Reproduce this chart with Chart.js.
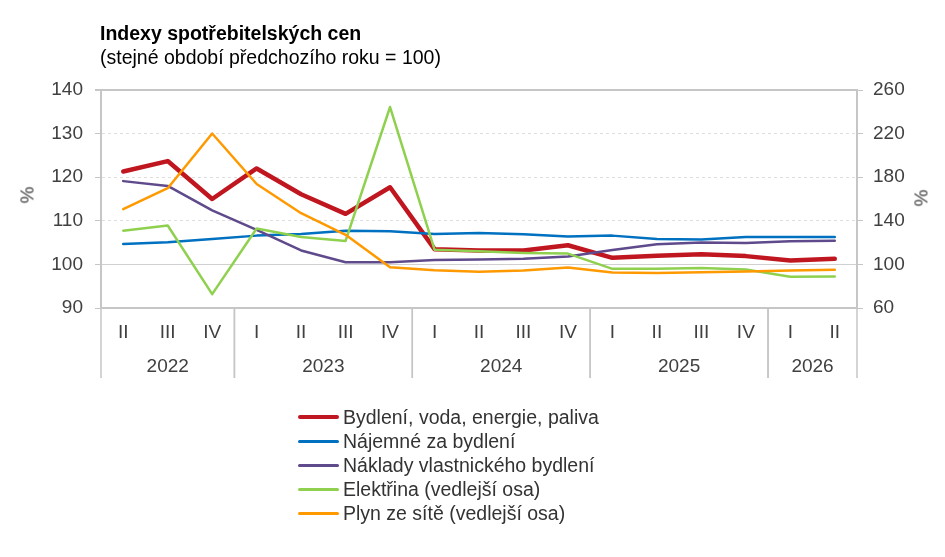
<!DOCTYPE html>
<html>
<head>
<meta charset="utf-8">
<script src="https://cdn.jsdelivr.net/npm/chart.js@4"></script>
<style>
  body { margin: 0; background: #fff; font-family: "Liberation Sans", Arial, sans-serif; }
  #wrap { position: relative; width: 945px; height: 557px; }
  #chart { position: absolute; left: 0; top: 0; }
  .title { position: absolute; left: 100px; top: 22px; font-size: 19.5px; line-height: 22px; font-weight: bold; color: #000; white-space: nowrap; }
  .subtitle { position: absolute; left: 100px; top: 46px; font-size: 19.5px; line-height: 22px; color: #000; white-space: nowrap; }
  .unit { position: absolute; font-size: 19px; color: #404040; transform: rotate(-90deg); }
  #legend { position: absolute; left: 298px; top: 405px; }
  .legend-item { height: 24.1px; display: flex; align-items: center; font-size: 19.5px; color: #333; white-space: nowrap; }
  .legend-line { width: 41px; margin-right: 4px; border-radius: 2px; }
</style>
</head>
<body>
<div id="wrap">
  <canvas id="chart" width="945" height="557"></canvas>
  <div class="title">Indexy spotřebitelských cen</div>
  <div class="subtitle">(stejné období předchozího roku = 100)</div>
  <div class="unit" style="left:19px; top:184px;">%</div>
  <div class="unit" style="left:913px; top:187px;">%</div>
  <div id="legend"></div>
</div>
<script>
// Data
const quarters = ['II', 'III', 'IV', 'I', 'II', 'III', 'IV', 'I', 'II', 'III', 'IV', 'I', 'II', 'III', 'IV', 'I', 'II'];
const years = ['2022', '2023', '2024', '2025', '2026'];
const quartersPerYear = [3, 4, 4, 4, 2];

const bydleni = [121.3, 123.7, 115.0, 122.0, 116.1, 111.6, 117.7, 103.5, 103.2, 103.2, 104.4, 101.5, 102.0, 102.3, 101.9, 100.9, 101.3];
const najemne = [104.7, 105.1, 105.8, 106.6, 107.0, 107.7, 107.6, 107.0, 107.2, 106.9, 106.4, 106.6, 105.8, 105.7, 106.3, 106.3, 106.3];
const naklady = [119.1, 118.0, 112.4, 107.9, 103.2, 100.5, 100.5, 101.0, 101.1, 101.3, 101.8, 103.3, 104.6, 105.0, 104.9, 105.3, 105.4];
const elektrina = [130.9, 135.7, 72.7, 133.0, 125.1, 121.5, 244.4, 113.5, 112.0, 110.5, 109.9, 95.9, 95.9, 96.8, 95.3, 88.6, 89.0];
const plyn = [150.7, 169.9, 220.1, 173.8, 147.0, 127.2, 97.4, 94.6, 93.3, 94.3, 97.1, 92.5, 92.2, 92.8, 93.4, 94.3, 95.0];

const axisGrey = '#c6c6c6';
const tickFont = { family: '"Liberation Sans", Arial, sans-serif', size: 19 };

// Year labels and separators under the x axis
const yearGroups = {
    id: 'yearGroups',
    afterDraw(chart) {
        const ctx = chart.ctx;
        const x = chart.scales.x;
        const area = chart.chartArea;
        const half = (x.getPixelForValue(1) - x.getPixelForValue(0)) / 2;
        ctx.save();
        ctx.strokeStyle = axisGrey;
        ctx.lineWidth = 1.5;
        ctx.fillStyle = '#404040';
        ctx.font = '19px "Liberation Sans", Arial, sans-serif';
        ctx.textAlign = 'center';
        ctx.textBaseline = 'middle';
        let start = 0;
        years.forEach((year, i) => {
            const end = start + quartersPerYear[i] - 1;
            const left = x.getPixelForValue(start) - half;
            const right = x.getPixelForValue(end) + half;
            [left, right].forEach(px => {
                ctx.beginPath();
                ctx.moveTo(px, area.bottom);
                ctx.lineTo(px, 378);
                ctx.stroke();
            });
            ctx.fillText(year, (left + right) / 2, 367);
            start = end + 1;
        });
        ctx.restore();
    }
};

const series = [
    { label: 'Bydlení, voda, energie, paliva', data: bydleni, color: '#c0161f', width: 4.5, axis: 'y', order: 5 },
    { label: 'Nájemné za bydlení', data: najemne, color: '#0070c0', width: 2.5, axis: 'y', order: 4 },
    { label: 'Náklady vlastnického bydlení', data: naklady, color: '#5f4a8b', width: 2.5, axis: 'y', order: 3 },
    { label: 'Elektřina (vedlejší osa)', data: elektrina, color: '#8fd14f', width: 2.5, axis: 'y2', order: 2 },
    { label: 'Plyn ze sítě (vedlejší osa)', data: plyn, color: '#ff9900', width: 2.5, axis: 'y2', order: 1 }
];

const chart = new Chart(document.getElementById('chart'), {
    type: 'line',
    data: {
        labels: quarters,
        datasets: series.map(s => ({
            label: s.label,
            data: s.data,
            borderColor: s.color,
            backgroundColor: s.color,
            borderWidth: s.width,
            pointRadius: 0,
            tension: 0,
            borderJoinStyle: 'round',
            borderCapStyle: 'round',
            yAxisID: s.axis,
            order: s.order
        }))
    },
    options: {
        responsive: false,
        animation: false,
        layout: { padding: { top: 90, left: 0, right: 0, bottom: 0 } },
        plugins: { legend: { display: false }, tooltip: { enabled: false } },
        scales: {
            x: {
                offset: true,
                grid: { display: false },
                border: { color: axisGrey, width: 2 },
                ticks: { font: tickFont, color: '#404040', padding: 5, maxRotation: 0, autoSkip: false },
                afterFit: s => { s.height = 557 - 308; }
            },
            y: {
                position: 'left',
                min: 90,
                max: 140,
                ticks: { stepSize: 10, font: tickFont, color: '#404040', padding: 12 },
                grid: {
                    color: c => (c.tick && (c.tick.value === 140 || c.tick.value === 90)) ? axisGrey : (c.tick && c.tick.value === 100 ? '#d0d0d0' : '#dedede'),
                    lineWidth: c => (c.tick && c.tick.value === 140) ? 2 : 1,
                    tickLength: 6,
                    tickColor: axisGrey
                },
                border: {
                    color: axisGrey,
                    width: 2,
                    dash: c => (c.type === 'tick' && c.tick.value > 100 && c.tick.value < 140) ? [3, 3] : []
                },
                afterFit: s => { s.width = 101; }
            },
            y2: {
                position: 'right',
                min: 60,
                max: 260,
                ticks: { stepSize: 40, font: tickFont, color: '#404040', padding: 10 },
                grid: { drawOnChartArea: false, tickLength: 6, color: axisGrey },
                border: { color: axisGrey, width: 2 },
                afterFit: s => { s.width = 88; }
            }
        }
    },
    plugins: [yearGroups]
});

// HTML legend
document.getElementById('legend').innerHTML = series.map(s => `
    <div class="legend-item">
        <div class="legend-line" style="background:${s.color}; height:${s.width > 3 ? 4 : 3}px;"></div>
        ${s.label}
    </div>`).join('');
</script>
</body>
</html>
